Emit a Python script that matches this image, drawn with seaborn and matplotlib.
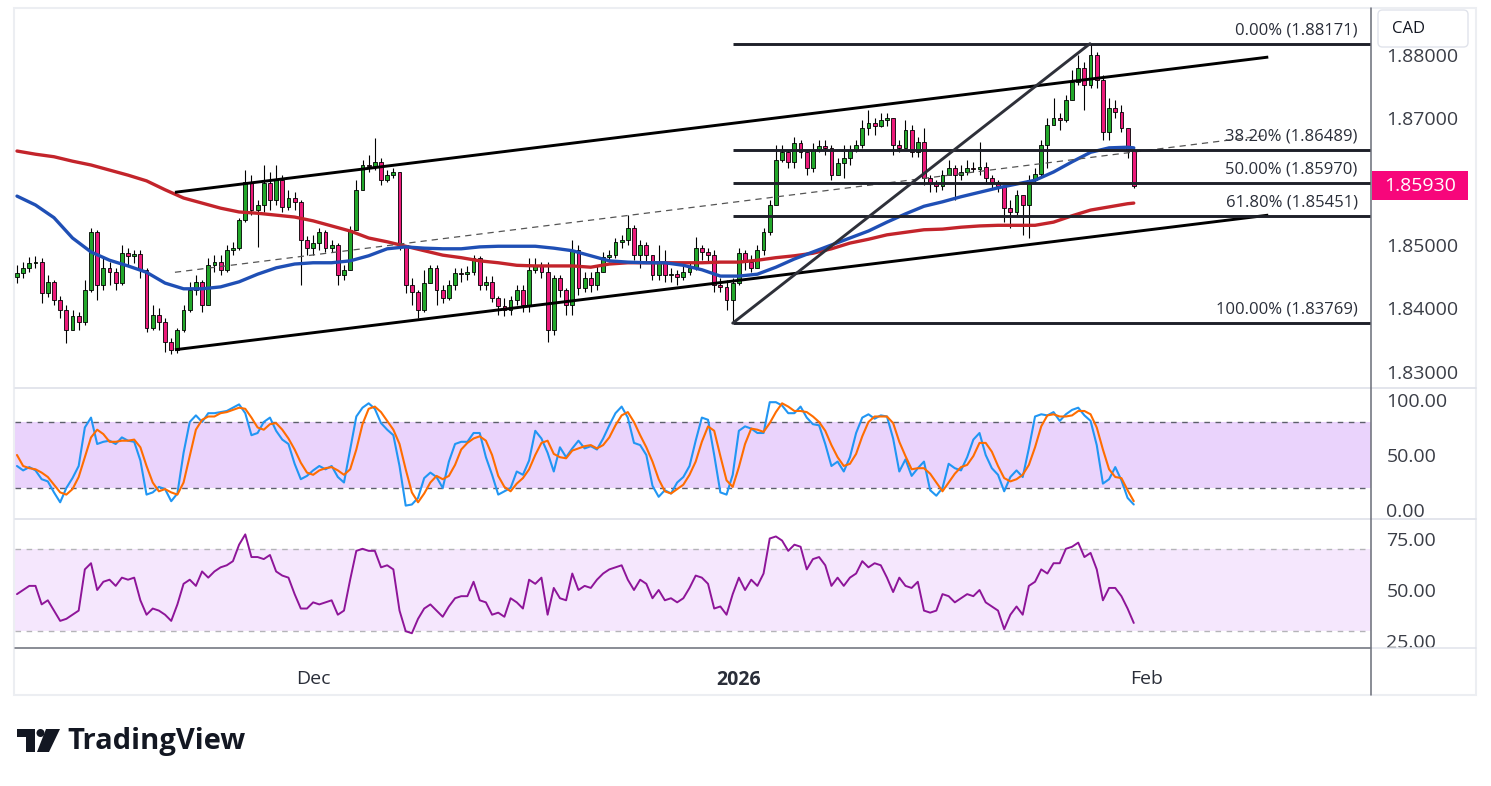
import numpy as np
import pandas as pd
import matplotlib
matplotlib.use("Agg")
import matplotlib.pyplot as plt
import seaborn as sns
from matplotlib.patches import FancyBboxPatch, Polygon, Ellipse, Rectangle
from matplotlib.lines import Line2D
from matplotlib.transforms import blended_transform_factory

W, H = 1491, 786

# ---- candles (one slot = 1/3 trading day) ----
first_open = 1.8450
close = [
    1.8456, 1.8464, 1.8472, 1.8473, 1.8424, 1.8442, 1.8413, 1.8398, 1.8366, 1.8388,
    1.8379, 1.8429, 1.8520, 1.8437, 1.8464, 1.8457, 1.8440, 1.8487, 1.8483, 1.8486,
    1.8461, 1.8369, 1.8390, 1.8379, 1.8347, 1.8335, 1.8366, 1.8398, 1.8429, 1.8442,
    1.8405, 1.8468, 1.8473, 1.8461, 1.8492, 1.8495, 1.8539, 1.8599, 1.8555, 1.8563,
    1.8598, 1.8571, 1.8602, 1.8560, 1.8574, 1.8568, 1.8508, 1.8495, 1.8503, 1.8520,
    1.8495, 1.8500, 1.8453, 1.8461, 1.8524, 1.8587, 1.8626, 1.8624, 1.8631, 1.8602,
    1.8610, 1.8615, 1.8500, 1.8437, 1.8426, 1.8398, 1.8440, 1.8464, 1.8429, 1.8417,
    1.8437, 1.8456, 1.8454, 1.8457, 1.8480, 1.8437, 1.8442, 1.8417, 1.8404, 1.8398,
    1.8413, 1.8429, 1.8405, 1.8461, 1.8468, 1.8457, 1.8366, 1.8448, 1.8429, 1.8405,
    1.8492, 1.8432, 1.8448, 1.8437, 1.8457, 1.8481, 1.8484, 1.8505, 1.8508, 1.8527,
    1.8484, 1.8500, 1.8484, 1.8453, 1.8473, 1.8453, 1.8454, 1.8450, 1.8457, 1.8464,
    1.8495, 1.8489, 1.8484, 1.8437, 1.8434, 1.8413, 1.8440, 1.8487, 1.8473, 1.8464,
    1.8492, 1.8520, 1.8563, 1.8634, 1.8646, 1.8631, 1.8661, 1.8646, 1.8621, 1.8650,
    1.8656, 1.8653, 1.8610, 1.8629, 1.8637, 1.8650, 1.8657, 1.8684, 1.8692, 1.8687,
    1.8697, 1.8700, 1.8657, 1.8653, 1.8681, 1.8646, 1.8662, 1.8606, 1.8598, 1.8593,
    1.8610, 1.8621, 1.8610, 1.8615, 1.8621, 1.8619, 1.8623, 1.8606, 1.8599, 1.8593,
    1.8558, 1.8552, 1.8579, 1.8563, 1.8602, 1.8612, 1.8657, 1.8689, 1.8700, 1.8697,
    1.8728, 1.8757, 1.8779, 1.8752, 1.8799, 1.8760, 1.8678, 1.8716, 1.8709, 1.8684,
    1.8650, 1.8593,
]
high = [
    1.8468, 1.8473, 1.8481, 1.8483, 1.8480, 1.8453, 1.8445, 1.8420, 1.8405, 1.8398,
    1.8394, 1.8445, 1.8527, 1.8524, 1.8480, 1.8473, 1.8464, 1.8500, 1.8495, 1.8492,
    1.8492, 1.8464, 1.8405, 1.8401, 1.8385, 1.8354, 1.8369, 1.8405, 1.8442, 1.8453,
    1.8445, 1.8480, 1.8484, 1.8484, 1.8500, 1.8505, 1.8543, 1.8618, 1.8610, 1.8571,
    1.8626, 1.8615, 1.8626, 1.8610, 1.8587, 1.8583, 1.8571, 1.8514, 1.8516, 1.8527,
    1.8524, 1.8508, 1.8503, 1.8468, 1.8530, 1.8602, 1.8634, 1.8642, 1.8669, 1.8637,
    1.8618, 1.8621, 1.8615, 1.8500, 1.8448, 1.8429, 1.8461, 1.8468, 1.8468, 1.8437,
    1.8445, 1.8464, 1.8464, 1.8467, 1.8484, 1.8483, 1.8451, 1.8451, 1.8420, 1.8417,
    1.8420, 1.8437, 1.8437, 1.8480, 1.8480, 1.8473, 1.8473, 1.8453, 1.8452, 1.8432,
    1.8508, 1.8500, 1.8457, 1.8457, 1.8468, 1.8489, 1.8492, 1.8511, 1.8516, 1.8547,
    1.8531, 1.8508, 1.8505, 1.8484, 1.8500, 1.8492, 1.8464, 1.8461, 1.8467, 1.8473,
    1.8513, 1.8500, 1.8495, 1.8492, 1.8448, 1.8445, 1.8448, 1.8495, 1.8492, 1.8484,
    1.8500, 1.8527, 1.8571, 1.8657, 1.8657, 1.8650, 1.8670, 1.8665, 1.8646, 1.8661,
    1.8665, 1.8665, 1.8657, 1.8637, 1.8657, 1.8657, 1.8665, 1.8697, 1.8713, 1.8700,
    1.8708, 1.8708, 1.8700, 1.8665, 1.8697, 1.8689, 1.8670, 1.8684, 1.8610, 1.8602,
    1.8618, 1.8634, 1.8626, 1.8626, 1.8634, 1.8631, 1.8662, 1.8631, 1.8610, 1.8602,
    1.8594, 1.8571, 1.8587, 1.8579, 1.8610, 1.8621, 1.8665, 1.8700, 1.8732, 1.8708,
    1.8736, 1.8776, 1.8799, 1.8788, 1.8817, 1.8804, 1.8768, 1.8732, 1.8728, 1.8720,
    1.8684, 1.8652,
]
low = [
    1.8440, 1.8448, 1.8457, 1.8464, 1.8409, 1.8418, 1.8405, 1.8385, 1.8346, 1.8369,
    1.8366, 1.8374, 1.8426, 1.8413, 1.8429, 1.8437, 1.8429, 1.8437, 1.8468, 1.8472,
    1.8448, 1.8363, 1.8366, 1.8366, 1.8331, 1.8328, 1.8330, 1.8363, 1.8394, 1.8421,
    1.8394, 1.8405, 1.8457, 1.8453, 1.8457, 1.8484, 1.8492, 1.8536, 1.8547, 1.8497,
    1.8552, 1.8555, 1.8563, 1.8552, 1.8555, 1.8555, 1.8437, 1.8484, 1.8484, 1.8492,
    1.8489, 1.8489, 1.8437, 1.8445, 1.8464, 1.8524, 1.8587, 1.8615, 1.8618, 1.8594,
    1.8599, 1.8606, 1.8492, 1.8424, 1.8405, 1.8385, 1.8394, 1.8445, 1.8405, 1.8409,
    1.8413, 1.8429, 1.8442, 1.8445, 1.8453, 1.8429, 1.8429, 1.8410, 1.8390, 1.8388,
    1.8390, 1.8405, 1.8394, 1.8394, 1.8456, 1.8448, 1.8347, 1.8358, 1.8418, 1.8390,
    1.8390, 1.8421, 1.8426, 1.8426, 1.8429, 1.8464, 1.8473, 1.8480, 1.8495, 1.8500,
    1.8476, 1.8464, 1.8473, 1.8445, 1.8445, 1.8442, 1.8442, 1.8437, 1.8445, 1.8453,
    1.8461, 1.8476, 1.8473, 1.8426, 1.8426, 1.8398, 1.8380, 1.8437, 1.8461, 1.8457,
    1.8473, 1.8484, 1.8516, 1.8563, 1.8631, 1.8621, 1.8621, 1.8637, 1.8610, 1.8615,
    1.8646, 1.8642, 1.8602, 1.8618, 1.8606, 1.8626, 1.8646, 1.8653, 1.8673, 1.8673,
    1.8686, 1.8687, 1.8642, 1.8646, 1.8653, 1.8639, 1.8639, 1.8594, 1.8583, 1.8583,
    1.8587, 1.8610, 1.8571, 1.8602, 1.8610, 1.8615, 1.8610, 1.8596, 1.8590, 1.8583,
    1.8536, 1.8527, 1.8547, 1.8516, 1.8511, 1.8599, 1.8607, 1.8621, 1.8689, 1.8681,
    1.8694, 1.8741, 1.8752, 1.8713, 1.8747, 1.8747, 1.8665, 1.8665, 1.8700, 1.8678,
    1.8637, 1.8590,
]

# ---- moving averages, read every 3 slots (plus the last one) ----
ma_step = 3
ma_blue = [
    1.8577, 1.8563, 1.8543, 1.8511, 1.8489, 1.8476, 1.8467, 1.8457, 1.8440, 1.8431,
    1.8431, 1.8434, 1.8442, 1.8454, 1.8464, 1.8470, 1.8472, 1.8472, 1.8475, 1.8483,
    1.8494, 1.8497, 1.8495, 1.8494, 1.8494, 1.8497, 1.8498, 1.8498, 1.8498, 1.8495,
    1.8491, 1.8483, 1.8475, 1.8473, 1.8472, 1.8472, 1.8468, 1.8461, 1.8451, 1.8451,
    1.8454, 1.8465, 1.8478, 1.8489, 1.8500, 1.8511, 1.8522, 1.8536, 1.8549, 1.8561,
    1.8568, 1.8576, 1.8583, 1.8590, 1.8596, 1.8602, 1.8615, 1.8631, 1.8646, 1.8653,
    1.8654, 1.8653,
]
ma_red = [
    1.8648, 1.8643, 1.8639, 1.8632, 1.8626, 1.8618, 1.8610, 1.8601, 1.8587, 1.8574,
    1.8566, 1.8558, 1.8552, 1.8550, 1.8547, 1.8544, 1.8538, 1.8530, 1.8522, 1.8511,
    1.8505, 1.8498, 1.8491, 1.8484, 1.8480, 1.8475, 1.8472, 1.8468, 1.8467, 1.8467,
    1.8467, 1.8465, 1.8470, 1.8472, 1.8472, 1.8472, 1.8472, 1.8472, 1.8473, 1.8473,
    1.8476, 1.8480, 1.8483, 1.8487, 1.8494, 1.8503, 1.8509, 1.8516, 1.8520, 1.8524,
    1.8525, 1.8528, 1.8530, 1.8531, 1.8531, 1.8531, 1.8536, 1.8546, 1.8555, 1.8560,
    1.8565, 1.8566,
]

# ---- stochastic %K / %D ----
stoch_k = [
    40, 36, 39, 36, 28, 26, 16, 7, 20, 29,
    40, 75, 84, 60, 62, 63, 60, 66, 63, 62,
    45, 14, 16, 21, 19, 8, 15, 52, 80, 86,
    80, 88, 88, 89, 90, 93, 96, 88, 68, 70,
    80, 84, 72, 64, 60, 42, 28, 31, 36, 40,
    37, 40, 30, 25, 55, 85, 93, 97, 92, 79,
    73, 68, 40, 4, 5, 11, 29, 34, 30, 20,
    44, 60, 62, 62, 70, 70, 48, 32, 14, 17,
    20, 35, 32, 45, 72, 65, 52, 35, 57, 48,
    56, 63, 56, 58, 55, 65, 77, 88, 94, 84,
    61, 59, 50, 22, 12, 18, 15, 25, 30, 40,
    63, 84, 82, 50, 16, 14, 32, 72, 76, 74,
    70, 70, 98, 98, 95, 88, 88, 94, 84, 78,
    77, 60, 40, 44, 35, 48, 70, 84, 87, 83,
    86, 85, 65, 35, 46, 31, 38, 44, 18, 13,
    20, 42, 38, 36, 48, 64, 70, 50, 38, 32,
    17, 30, 36, 30, 56, 85, 87, 86, 89, 81,
    87, 91, 93, 86, 81, 59, 24, 28, 39, 27,
    11, 5,
]
stoch_d = [
    50, 40, 38, 37, 34, 30, 23, 16, 14, 19,
    30, 48, 66, 73, 69, 62, 62, 63, 63, 64,
    57, 40, 25, 17, 19, 16, 14, 25, 49, 73,
    82, 85, 85, 88, 89, 91, 93, 92, 84, 75,
    73, 78, 79, 73, 65, 55, 43, 34, 32, 36,
    38, 39, 36, 32, 37, 55, 78, 92, 94, 89,
    81, 73, 60, 37, 16, 7, 15, 25, 31, 28,
    31, 41, 55, 61, 65, 67, 63, 50, 31, 21,
    17, 24, 29, 37, 50, 61, 63, 51, 48, 47,
    54, 56, 58, 59, 56, 59, 66, 77, 86, 89,
    80, 68, 57, 44, 28, 17, 15, 19, 23, 32,
    44, 62, 76, 72, 49, 27, 21, 39, 60, 74,
    73, 71, 79, 89, 97, 94, 90, 90, 89, 85,
    80, 72, 59, 48, 40, 42, 51, 67, 80, 85,
    85, 85, 79, 62, 49, 37, 38, 38, 33, 25,
    17, 25, 33, 39, 41, 49, 61, 61, 53, 40,
    29, 26, 28, 32, 41, 57, 76, 86, 87, 85,
    85, 86, 90, 90, 87, 75, 55, 37, 30, 29,
    18, 8,
]

# ---- RSI ----
rsi = [
    48, 50, 52, 52, 43, 45, 40, 35, 36, 38,
    40, 60, 63, 50, 54, 55, 52, 56, 55, 56,
    45, 38, 41, 40, 38, 35, 43, 53, 55, 52,
    59, 56, 59, 61, 62, 64, 72, 77, 66, 66,
    65, 67, 59, 57, 56, 48, 41, 41, 44, 43,
    44, 45, 38, 40, 55, 69, 70, 69, 69, 61,
    62, 60, 40, 30, 29, 36, 41, 43, 40, 37,
    42, 46, 47, 47, 54, 45, 44, 38, 39, 37,
    46, 44, 41, 55, 53, 56, 38, 51, 46, 45,
    58, 50, 52, 51, 55, 58, 60, 61, 62, 55,
    50, 55, 53, 46, 50, 45, 46, 44, 46, 51,
    57, 56, 53, 41, 42, 38, 48, 56, 50, 55,
    52, 58, 75, 76, 74, 69, 72, 71, 60, 65,
    66, 62, 52, 56, 52, 56, 58, 64, 61, 63,
    62, 56, 49, 56, 52, 51, 54, 40, 39, 40,
    48, 47, 44, 46, 48, 47, 50, 44, 42, 40,
    31, 38, 42, 38, 52, 54, 60, 58, 63, 63,
    70, 71, 73, 66, 68, 60, 45, 51, 51, 47,
    41, 34,
]

# ---- drawings (slot index, price) ----
channel_x = [25.6, 202.8]
channel_upper = [1.8583, 1.8796]
channel_mid = [1.8457, 1.8673]
channel_lower = [1.8335, 1.8547]
fib_start = 116.0
fib_pct = ["0.00%", "38.20%", "50.00%", "61.80%", "100.00%"]
fib_lvl = [1.88171, 1.86489, 1.85970, 1.85451, 1.83769]
fib_diag_x = [116.0, 173.9]
fib_diag_y = [1.83769, 1.88171]

price_ticks = [1.83, 1.84, 1.85, 1.86, 1.87, 1.88]
tick_pos = [48, 117, 183]
tick_labels = ["Dec", "2026", "Feb"]

sns.set_theme(style="white")
plt.rcParams['font.family'] = ['Open Sans', 'DejaVu Sans']

fig = plt.figure(figsize=(W / 100, H / 100), dpi=100)
fig.patch.set_facecolor('white')


def box(l, t, r, b):
    return [l / W, 1 - b / H, (r - l) / W, (b - t) / H]


def fx(x):
    return x / W


def fy(y):
    return 1 - y / H


ax_p = fig.add_axes(box(15, 8, 1371, 387))
ax_s = fig.add_axes(box(15, 388, 1371, 518), sharex=ax_p)
ax_r = fig.add_axes(box(15, 519, 1371, 648), sharex=ax_p)

n = len(close)
idx = np.arange(n)
closes = np.array(close)
opens = np.r_[first_open, closes[:-1]]
hi = np.maximum(np.array(high), np.maximum(opens, closes))
lo = np.minimum(np.array(low), np.minimum(opens, closes))
up = closes >= opens
body_col = np.where(up, '#22a82a', '#ec1a7a')

# candles
ax_p.vlines(idx, lo, hi, color='black', lw=0.8, zorder=2)
ax_p.bar(idx, np.maximum(np.abs(closes - opens), 0.00006), bottom=np.minimum(opens, closes),
         width=0.62, color=body_col, edgecolor='black', linewidth=0.6, zorder=3)

# moving averages
ma_idx = list(range(0, n, ma_step)) + [n - 1]
ma_df = pd.DataFrame({'slot': ma_idx, 'blue': ma_blue, 'red': ma_red})
sns.lineplot(data=ma_df, x='slot', y='red', ax=ax_p, color='#c3242b', linewidth=2.4, zorder=4)
sns.lineplot(data=ma_df, x='slot', y='blue', ax=ax_p, color='#1f4fb5', linewidth=2.4, zorder=4)

# channel
ax_p.plot(channel_x, channel_upper, color='black', lw=2.1, zorder=5, solid_capstyle='butt')
ax_p.plot(channel_x, channel_lower, color='black', lw=2.1, zorder=5, solid_capstyle='butt')
ax_p.plot(channel_x, channel_mid, color='#555555', lw=0.9, ls=(0, (5, 4)), zorder=5)

# fibonacci
xmax = (1371 - 17) / 6.17
for p, lv in zip(fib_pct, fib_lvl):
    ax_p.plot([fib_start, xmax], [lv, lv], color='#1e2029', lw=2.1, zorder=5, solid_capstyle='butt')
    ax_p.annotate(f"{p} ({lv:.5f})", xy=(217.3, lv), xytext=(0, 4), textcoords='offset points',
                  ha='right', va='bottom', fontsize=12, color='#2a2e39', zorder=6)
ax_p.plot(fib_diag_x, fib_diag_y, color='#2e3039', lw=2.1, zorder=5)

ax_p.set_xlim(-0.32, xmax)
ax_p.set_ylim(1.82763, 1.88733)
ax_p.yaxis.tick_right()
ax_p.set_yticks(price_ticks)
ax_p.set_yticklabels([f"{v:.5f}" for v in price_ticks])
ax_p.tick_params(axis='y', length=0, pad=11, labelsize=14, labelcolor='#3a3d46')
ax_p.tick_params(axis='x', bottom=False, labelbottom=False)

# last price tag
last = closes[-1]
tr = blended_transform_factory(ax_p.transAxes, ax_p.transData)
ax_p.add_patch(Rectangle((1.0007, last - 0.00228), 0.0708, 0.00457, transform=tr,
                         fc='#f7067b', ec='none', clip_on=False, zorder=7))
ax_p.text(1.0007 + 0.0354, last, f"{last:.5f}", transform=tr, ha='center', va='center',
          color='white', fontsize=14, clip_on=False, zorder=8)

# stochastic
ax_s.axhspan(20, 80, color='#ead3fc', lw=0, zorder=0)
for lv in (20, 80):
    ax_s.axhline(lv, color='#5d606b', lw=1.0, ls=(0, (4, 4)), zorder=1)
sns.lineplot(x=idx, y=stoch_k, ax=ax_s, color='#2196f3', linewidth=1.5, zorder=3)
sns.lineplot(x=idx, y=stoch_d, ax=ax_s, color='#ff6d00', linewidth=1.5, zorder=3)
ax_s.set_ylim(-7.27, 110.9)
ax_s.yaxis.tick_right()
ax_s.set_yticks([0, 50, 100])
ax_s.set_yticklabels(["0.00", "50.00", "100.00"])
ax_s.tick_params(axis='y', length=0, pad=11, labelsize=14, labelcolor='#3a3d46')
ax_s.tick_params(axis='x', bottom=False, labelbottom=False)

# RSI
ax_r.axhspan(30, 70, color='#f5e7fd', lw=0, zorder=0)
for lv in (30, 70):
    ax_r.axhline(lv, color='#b4b4b8', lw=1.0, ls=(0, (4, 4)), zorder=1)
sns.lineplot(x=idx, y=rsi, ax=ax_r, color='#8e1599', linewidth=1.4, zorder=3)
ax_r.set_ylim(21.84, 84.47)
ax_r.yaxis.tick_right()
ax_r.set_yticks([25, 50, 75])
ax_r.set_yticklabels(["25.00", "50.00", "75.00"])
ax_r.tick_params(axis='y', length=0, pad=11, labelsize=14, labelcolor='#3a3d46')
ax_r.set_xticks(tick_pos)
ax_r.set_xticklabels(tick_labels)
ax_r.tick_params(axis='x', length=0, pad=16, labelsize=14, labelcolor='#2a2e39')
ax_r.get_xticklabels()[1].set_fontweight('bold')

for a in (ax_p, ax_s, ax_r):
    a.set_xlabel('')
    a.set_ylabel('')
    a.grid(False)
    for sp in a.spines.values():
        sp.set_visible(False)
    if a.get_legend() is not None:
        a.get_legend().remove()
ax_p.set_xlim(-0.32, xmax)


def fline(xs, ys, color, lw):
    fig.add_artist(Line2D([fx(v) for v in xs], [fy(v) for v in ys], color=color, lw=lw,
                          transform=fig.transFigure, zorder=9))


# frame and separators
fig.add_artist(Rectangle((fx(14), fy(695)), (1476 - 14) / W, (695 - 8) / H, transform=fig.transFigure,
                         fill=False, ec='#eceef2', lw=1.5, zorder=9))
fline([15, 1476], [387.5, 387.5], '#e0e3eb', 1.3)
fline([15, 1476], [518.5, 518.5], '#e0e3eb', 1.3)
fline([15, 1371], [648, 648], '#6a6d78', 1.1)
fline([1371, 1476], [648, 648], '#e0e3eb', 1.1)
fline([1371, 1371], [8, 695], '#6a6d78', 1.1)

# CAD box
fig.add_artist(FancyBboxPatch((fx(1378), fy(47)), (1468 - 1378) / W, 37 / H,
                              boxstyle='round,pad=0,rounding_size=0.003', mutation_aspect=W / H,
                              transform=fig.transFigure, fc='white', ec='#e0e3eb', lw=1, zorder=10))
fig.text(fx(1392), fy(29), "CAD", fontsize=12, color='#131722', va='center', ha='left', zorder=11)

# TradingView logo
logo = '#131722'
fig.add_artist(Polygon([(fx(17), fy(729)), (fx(35), fy(729)), (fx(35), fy(752)), (fx(26), fy(752)),
                        (fx(26), fy(737)), (fx(17), fy(737))], closed=True, fc=logo, ec='none',
                       transform=fig.transFigure))
fig.add_artist(Ellipse((fx(40.5), fy(733)), 8 / W, 8 / H, fc=logo, ec='none', transform=fig.transFigure))
fig.add_artist(Polygon([(fx(46), fy(729)), (fx(60), fy(729)), (fx(49), fy(752)), (fx(37), fy(752))],
                       closed=True, fc=logo, ec='none', transform=fig.transFigure))
fig.text(fx(67), fy(742), "TradingView", fontsize=21, fontweight='bold', color=logo, va='center', ha='left')

fig.savefig("out.png", dpi=100, facecolor='white')
